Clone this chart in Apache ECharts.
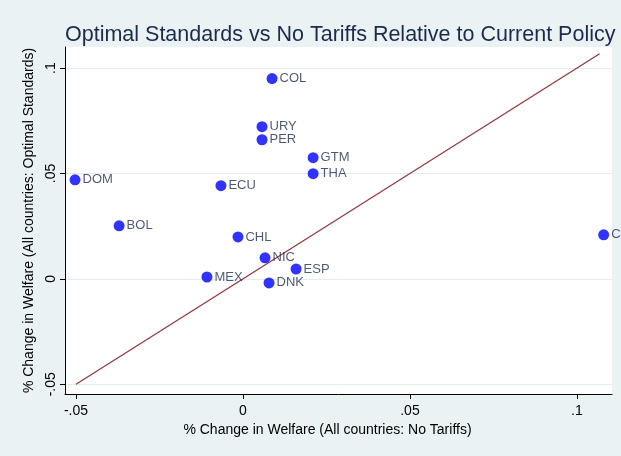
<!DOCTYPE html>
<html>
<head>
<meta charset="utf-8">
<script src="https://cdn.jsdelivr.net/npm/echarts@6/dist/echarts.min.js"></script>
<style>
  html, body { margin: 0; padding: 0; background: #eaf2f3; }
  #chart { width: 621px; height: 456px; }
</style>
</head>
<body>
<div id="chart"></div>
<script>
// country points: x = no tariffs, y = optimal standards
const countries = ['COL', 'URY', 'PER', 'GTM', 'THA', 'ECU', 'DOM', 'BOL', 'CHL', 'NIC', 'ESP', 'MEX', 'DNK', 'CRI']
const noTariffs = [0.0087, 0.0057, 0.0057, 0.0210, 0.0210, -0.0066, -0.0503, -0.0371, -0.0015, 0.0066, 0.0159, -0.0108, 0.0078, 0.1080]
const optStandards = [0.0950, 0.0722, 0.0660, 0.0575, 0.0499, 0.0442, 0.0470, 0.0252, 0.0199, 0.0100, 0.0047, 0.0009, -0.0019, 0.0209]

// 45 degree reference line
const lineX = [-0.05, 0.1068]
const lineY = [-0.05, 0.1068]

const xTicks = [-0.05, 0, 0.05, 0.1]
const yTicks = [-0.05, 0, 0.05, 0.1]

const fmt = (v) => v === 0 ? '0' : String(v).replace('0.', '.')

const chart = echarts.init(document.getElementById('chart'))

const option = {
  backgroundColor: '#eaf2f3',
  animation: false,
  title: {
    text: 'Optimal Standards vs No Tariffs Relative to Current Policy',
    left: 60,
    top: 19,
    textStyle: {
      fontFamily: 'Liberation Sans',
      fontSize: 21.5,
      fontWeight: 'normal',
      color: '#1c2a4e'
    }
  },
  grid: {
    left: 65,
    right: 9,
    top: 47,
    bottom: 62,
    show: true,
    backgroundColor: '#ffffff',
    borderWidth: 0
  },
  xAxis: {
    type: 'value',
    min: -0.0533,
    max: 0.1105,
    name: '% Change in Welfare (All countries: No Tariffs)',
    nameLocation: 'middle',
    nameGap: 28,
    nameTextStyle: { fontFamily: 'Liberation Sans', fontSize: 14, color: '#000', padding: [0, 22, 0, 0] },
    axisLine: { show: true, onZero: false, lineStyle: { color: '#000', width: 1 } },
    axisTick: { show: true, length: 5, customValues: xTicks, lineStyle: { color: '#000' } },
    axisLabel: {
      customValues: xTicks,
      formatter: fmt,
      margin: 10,
      fontFamily: 'Liberation Sans',
      fontSize: 14,
      color: '#000'
    },
    splitLine: { show: false }
  },
  yAxis: {
    type: 'value',
    min: -0.0546,
    max: 0.110,
    name: '% Change in Welfare (All countries: Optimal Standards)',
    nameLocation: 'middle',
    nameRotate: 90,
    nameGap: 25,
    nameTextStyle: { fontFamily: 'Liberation Sans', fontSize: 14, color: '#000' },
    axisLine: { show: true, onZero: false, lineStyle: { color: '#000', width: 1 } },
    axisTick: { show: true, length: 5, customValues: yTicks, lineStyle: { color: '#000' } },
    axisLabel: {
      customValues: yTicks,
      formatter: fmt,
      rotate: 90,
      margin: 7,
      fontFamily: 'Liberation Sans',
      fontSize: 14,
      color: '#000'
    },
    splitLine: { show: true, lineStyle: { color: '#e3ecef', width: 1 } }
  },
  series: [
    {
      name: '45 degree',
      type: 'line',
      data: lineX.map((x, i) => [x, lineY[i]]),
      symbol: 'none',
      lineStyle: { color: '#90353b', width: 1.2 },
      z: 1
    },
    {
      name: 'countries',
      type: 'scatter',
      data: countries.map((c, i) => ({ name: c, value: [noTariffs[i], optStandards[i]] })),
      symbolSize: 11,
      itemStyle: { color: '#0000ff' },
      label: {
        show: true,
        position: 'right',
        distance: 2,
        formatter: (p) => p.name,
        fontFamily: 'Liberation Sans',
        fontSize: 13,
        color: '#1f2d4d'
      },
      z: 2
    }
  ]
}

chart.setOption(option)
</script>
</body>
</html>
